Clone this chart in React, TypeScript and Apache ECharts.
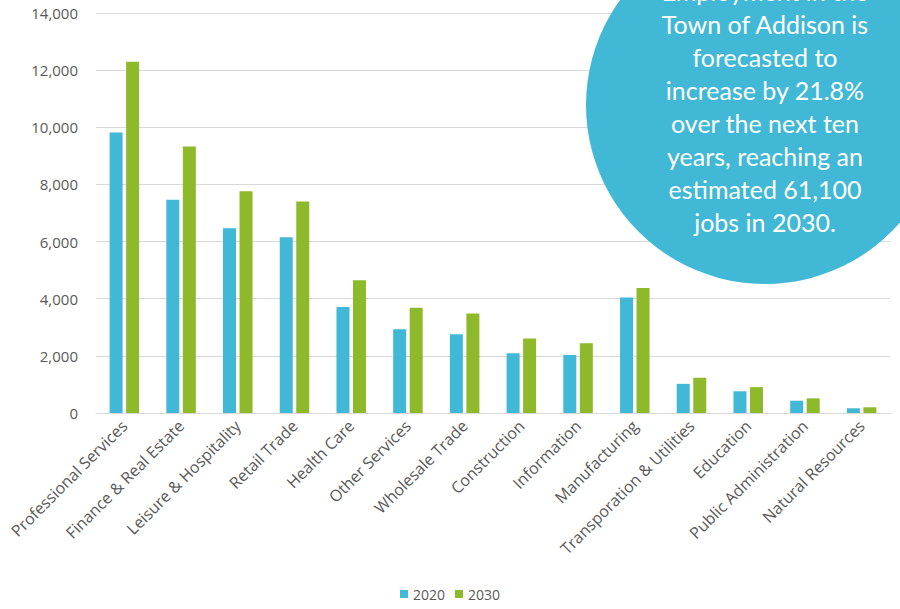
import React, { useEffect, useRef } from "react";
import * as echarts from "echarts";

const categories = [
  "Professional Services",
  "Finance & Real Estate",
  "Leisure & Hospitality",
  "Retail Trade",
  "Health Care",
  "Other Services",
  "Wholesale Trade",
  "Construction",
  "Information",
  "Manufacturing",
  "Transporation & Utilities",
  "Education",
  "Public Administration",
  "Natural Resources",
];
const values2020 = [9820, 7460, 6470, 6150, 3710, 2930, 2760, 2090, 2030, 4040, 1020, 760, 430, 165];
const values2030 = [12290, 9330, 7760, 7400, 4645, 3680, 3480, 2610, 2440, 4375, 1235, 905, 512, 200];
const seriesNames = ["2020", "2030"];
const calloutLines = [
  "Employment in the",
  "Town of Addison is",
  "forecasted to",
  "increase by 21.8%",
  "over the next ten",
  "years, reaching an",
  "estimated 61,100",
  "jobs in 2030.",
];

const BLUE = "#41B8D5";
const GREEN = "#8DB92A";

export default function App() {
  const ref = useRef<HTMLDivElement>(null);
  useEffect(() => {
    if (!ref.current) return;
    const chart = echarts.init(ref.current, null, { renderer: "svg" });
    const cx = 765;
    const cy = 105;
    const r = 179;
    const lineH = 33;
    const firstY = -9;
    chart.setOption({
      animation: false,
      backgroundColor: "#ffffff",
      grid: { left: 96, right: 10, top: 13, bottom: 196, containLabel: false },
      legend: {
        bottom: 3,
        left: "center",
        itemWidth: 8,
        itemHeight: 8,
        itemGap: 10,
        icon: "rect",
        textStyle: { color: "#595959", fontSize: 14, fontFamily: "Open Sans" },
        data: seriesNames,
      },
      xAxis: {
        type: "category",
        data: categories,
        axisLine: { lineStyle: { color: "#d9d9d9", width: 1 } },
        axisTick: { show: false },
        axisLabel: {
          rotate: 45,
          interval: 0,
          color: "#595959",
          fontSize: 16,
          fontFamily: "Open Sans",
          margin: 10,
        },
      },
      yAxis: {
        type: "value",
        min: 0,
        max: 14000,
        interval: 2000,
        axisLine: { show: false },
        axisTick: { show: false },
        splitLine: { lineStyle: { color: "#d9d9d9", width: 1 } },
        axisLabel: {
          color: "#595959",
          fontSize: 15,
          fontFamily: "Open Sans",
          margin: 18,
          formatter: (v: number) => v.toLocaleString("en-US"),
        },
      },
      series: [
        {
          name: seriesNames[0],
          type: "bar",
          data: values2020,
          barWidth: 13,
          barGap: "27%",
          itemStyle: { color: BLUE },
        },
        {
          name: seriesNames[1],
          type: "bar",
          data: values2030,
          barWidth: 13,
          barGap: "27%",
          itemStyle: { color: GREEN },
        },
      ],
      graphic: [
        {
          type: "circle",
          shape: { cx, cy, r },
          style: { fill: BLUE },
          z: 100,
        },
        ...calloutLines.map((t, i) => ({
          type: "text",
          x: cx,
          y: firstY + i * lineH,
          z: 101,
          style: {
            text: t,
            fill: "#ffffff",
            font: '25px Lato, "Open Sans", sans-serif',
            textAlign: "center",
            textVerticalAlign: "middle",
          },
        })),
      ],
    });
    return () => chart.dispose();
  }, []);
  return <div ref={ref} style={{ width: 900, height: 609, position: "absolute", left: 0, top: 0 }} />;
}
